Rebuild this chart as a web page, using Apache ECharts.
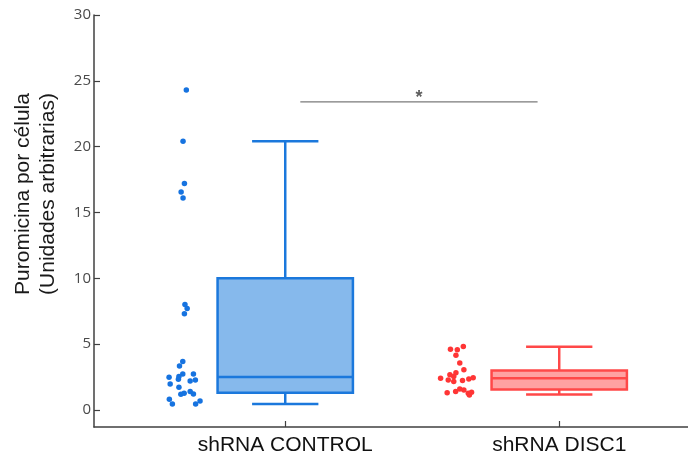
<!DOCTYPE html>
<html>
<head>
<meta charset="utf-8">
<script src="https://cdn.jsdelivr.net/npm/echarts@6/dist/echarts.min.js"></script>
<style>
  html, body { margin: 0; padding: 0; background: #fff; }
  #chart { width: 688px; height: 461px; }
</style>
</head>
<body>
<div id="chart"></div>
<script>
// Groups on the x axis
const categories = ['shRNA CONTROL', 'shRNA DISC1'];
const groupPos = [1, 2];

// Individual cells: puromycin per cell (arbitrary units), with horizontal jitter
const controlValues = [24.3, 20.4, 17.2, 16.55, 16.1, 8.0, 7.7, 7.3,
  3.67, 3.34, 2.73, 2.53, 2.33, 2.48, 2.73, 2.28, 2.2, 1.97, 1.72,
  1.19, 1.26, 1.39, 1.21, 0.81, 0.45, 0.45, 0.68];
const controlJitter = [0.639, 0.627, 0.632, 0.620, 0.627, 0.634, 0.642, 0.632,
  0.626, 0.614, 0.626, 0.612, 0.610, 0.576, 0.665, 0.672, 0.653, 0.580, 0.612,
  0.619, 0.631, 0.653, 0.665, 0.577, 0.588, 0.673, 0.689];

const disc1Values = [4.61, 4.56, 4.81, 4.15, 3.57, 3.04, 2.83, 2.66, 2.53,
  2.41, 2.28, 2.15, 2.23, 2.35, 2.45, 1.31, 1.39, 1.59, 1.52, 1.26, 1.34, 1.14];
const disc1Jitter = [1.603, 1.628, 1.650, 1.623, 1.637, 1.652, 1.623, 1.601, 1.615,
  1.567, 1.595, 1.615, 1.647, 1.670, 1.686, 1.591, 1.622, 1.637, 1.652, 1.668, 1.680, 1.672];

// Box summaries: [min, Q1, median, Q3, max]
const controlBox = [0.45, 1.3, 2.5, 10.0, 20.4];
const disc1Box = [1.17, 1.55, 2.4, 3.0, 4.8];

// Y axis ticks
const yTicks = [0, 5, 10, 15, 20, 25, 30];

// Significance bracket between the two groups
const sigSpan = [1.055, 1.921];
const sigLevel = 23.4;
const sigText = '*';

const palette = [
  { stroke: '#1b78dc', fill: '#86b9ec', dot: '#1673e0' },
  { stroke: '#ff4848', fill: '#ffa1a1', dot: '#ff3535' }
];

const boxHalf = 0.247;
const capHalf = 0.121;

function renderBox(params, api) {
  const x = api.value(0);
  const mn = api.value(1), q1 = api.value(2), md = api.value(3), q3 = api.value(4), mx = api.value(5);
  const c = palette[params.dataIndex];
  const tl = api.coord([x - boxHalf, q3]);
  const br = api.coord([x + boxHalf, q1]);
  const mL = api.coord([x - boxHalf, md]);
  const mR = api.coord([x + boxHalf, md]);
  const top = api.coord([x, mx]);
  const bot = api.coord([x, mn]);
  const capL = api.coord([x - capHalf, 0])[0];
  const capR = api.coord([x + capHalf, 0])[0];
  const lineStyle = { stroke: c.stroke, lineWidth: 2.5 };
  return {
    type: 'group',
    children: [
      { type: 'line', shape: { x1: top[0], y1: top[1], x2: top[0], y2: tl[1] }, style: lineStyle },
      { type: 'line', shape: { x1: bot[0], y1: bot[1], x2: bot[0], y2: br[1] }, style: lineStyle },
      { type: 'line', shape: { x1: capL, y1: top[1], x2: capR, y2: top[1] }, style: lineStyle },
      { type: 'line', shape: { x1: capL, y1: bot[1], x2: capR, y2: bot[1] }, style: lineStyle },
      { type: 'rect', shape: { x: tl[0], y: tl[1], width: br[0] - tl[0], height: br[1] - tl[1] },
        style: { fill: c.fill, stroke: c.stroke, lineWidth: 2.5 } },
      { type: 'line', shape: { x1: mL[0], y1: mL[1], x2: mR[0], y2: mR[1] }, style: lineStyle }
    ]
  };
}

const chart = echarts.init(document.getElementById('chart'), null, { renderer: 'canvas' });

chart.setOption({
  animation: false,
  backgroundColor: '#ffffff',
  grid: { left: 94, right: 0, top: 15, bottom: 34, containLabel: false },
  xAxis: {
    type: 'value',
    min: 0.302,
    max: 2.47,
    splitLine: { show: false },
    axisLine: { show: true, onZero: false, lineStyle: { color: '#404040', width: 1.5 } },
    axisTick: { show: true, inside: true, length: 6, customValues: groupPos,
      lineStyle: { color: '#404040', width: 1.2 } },
    axisLabel: {
      customValues: groupPos,
      formatter: v => categories[groupPos.indexOf(Math.round(v))] || '',
      color: '#111111',
      fontFamily: 'Liberation Sans, Arial, sans-serif',
      fontSize: 21,
      margin: 8
    }
  },
  yAxis: {
    type: 'value',
    min: -1.3,
    max: 30,
    splitLine: { show: false },
    axisLine: { show: true, onZero: false, lineStyle: { color: '#404040', width: 1.5 } },
    axisTick: { show: true, inside: true, length: 6, customValues: yTicks,
      lineStyle: { color: '#404040', width: 1.2 } },
    axisLabel: {
      customValues: yTicks,
      color: '#4a4a4a',
      fontFamily: 'Open Sans, Noto Sans, sans-serif',
      fontSize: 15,
      margin: 3
    }
  },
  graphic: [{
    type: 'text',
    x: 36,
    y: 194,
    rotation: Math.PI / 2,
    style: {
      text: 'Puromicina por célula\n(Unidades arbitrarias)',
      fill: '#1a1a1a',
      font: '21px "Liberation Sans", Arial, sans-serif',
      lineHeight: 25,
      align: 'center',
      verticalAlign: 'middle'
    }
  }],
  series: [
    {
      type: 'custom',
      renderItem: renderBox,
      data: [[groupPos[0]].concat(controlBox), [groupPos[1]].concat(disc1Box)],
      encode: { x: 0, y: [1, 2, 3, 4, 5] },
      z: 2
    },
    {
      type: 'scatter',
      symbolSize: 5.5,
      itemStyle: { color: palette[0].dot, opacity: 1 },
      data: controlValues.map((v, i) => [controlJitter[i], v]),
      z: 3
    },
    {
      type: 'scatter',
      symbolSize: 5.5,
      itemStyle: { color: palette[1].dot, opacity: 1 },
      data: disc1Values.map((v, i) => [disc1Jitter[i], v]),
      z: 3
    },
    {
      type: 'line',
      symbol: 'none',
      lineStyle: { color: '#7a7a7a', width: 1.2 },
      data: [[sigSpan[0], sigLevel], [sigSpan[1], sigLevel]],
      z: 1
    },
    {
      type: 'scatter',
      symbolSize: 0,
      data: [[(sigSpan[0] + sigSpan[1]) / 2, sigLevel]],
      label: {
        show: true,
        position: 'top',
        distance: -5,
        formatter: sigText,
        color: '#333333',
        fontFamily: 'Liberation Sans, Arial, sans-serif',
        fontSize: 18,
        fontWeight: 'bold'
      }
    }
  ]
});
</script>
</body>
</html>
